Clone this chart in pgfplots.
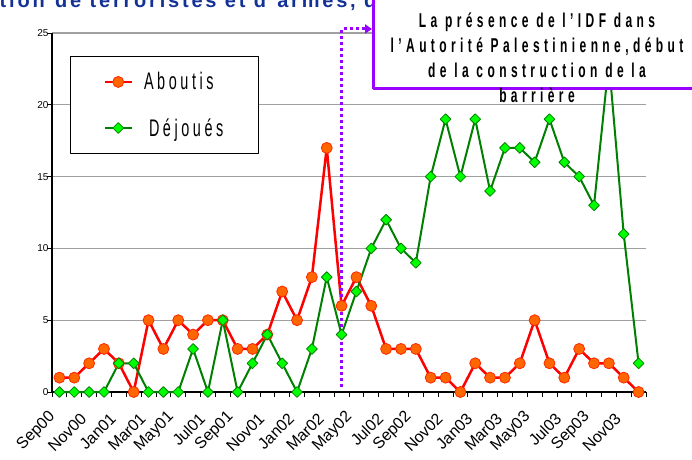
\documentclass[border=0pt]{standalone}
\usepackage{pgfplots}
\usepackage{pgfplotstable}
\pgfplotsset{compat=1.18}
\usetikzlibrary{arrows.meta}
\usepackage{fontspec}
\setmainfont{Liberation Sans}
\newfontfamily\legfont[FakeStretch=0.6,LetterSpace=15]{Liberation Sans}
\newfontfamily\notefont[FakeStretch=0.6,LetterSpace=22]{Liberation Sans}
\newfontfamily\titlefont[LetterSpace=14]{Liberation Sans}
\definecolor{vio}{RGB}{153,0,255}
\definecolor{redline}{RGB}{255,0,0}
\definecolor{orangefill}{RGB}{255,102,0}
\definecolor{markred}{RGB}{255,40,0}
\definecolor{dgreen}{RGB}{0,128,0}
\definecolor{lgreen}{RGB}{0,255,0}
\definecolor{gridgray}{RGB}{160,160,160}
\definecolor{titleblue}{RGB}{20,50,150}

\pgfplotstableread{
x a d
0 1 0
1 1 0
2 2 0
3 3 0
4 2 2
5 0 2
6 5 0
7 3 0
8 5 0
9 4 3
10 5 0
11 5 5
12 3 0
13 3 2
14 4 4
15 7 2
16 5 0
17 8 3
18 17 8
19 6 4
20 8 7
21 6 10
22 3 12
23 3 10
24 3 9
25 1 15
26 1 19
27 0 15
28 2 19
29 1 14
30 1 17
31 2 17
32 5 16
33 2 19
34 1 16
35 3 15
36 2 13
37 2 23
38 1 11
39 0 2
}\datatable

\begin{document}
\begin{tikzpicture}[line join=round]
\useasboundingbox (0pt,0pt) rectangle (692pt,-459pt);
\clip (0pt,0pt) rectangle (692pt,-459pt);
\begin{axis}[
  at={(52pt,-392pt)}, anchor=south west,
  scale only axis, width=594pt, height=359pt,
  xmin=-0.5, xmax=39.5, ymin=0, ymax=25,
  clip=false,
  axis x line*=bottom, axis y line*=left,
  axis line style={black, line width=1.5pt},
  xtick={0,2,...,38},
  xticklabels={Sep00,Nov00,Jan01,Mar01,May01,Jul01,Sep01,Nov01,Jan02,Mar02,May02,Jul02,Sep02,Nov02,Jan03,Mar03,May03,Jul03,Sep03,Nov03},
  minor xtick={-0.5,0.5,...,39.5},
  ytick={0,5,...,25},
  minor ytick={0,5,...,25},
  major tick length=0pt,
  minor tick length=5pt,
  tick align=outside,
  tick style={black, line width=0.8pt},
  ymajorgrids,
  major grid style={gridgray, line width=1.2pt},
  /pgf/number format/assume math mode=true,
  xticklabel shift=28pt,
  xticklabel style={rotate=45, anchor=south east, font=\fontsize{16}{16}\selectfont, inner sep=1pt},
  yticklabel style={font=\fontsize{10}{10}\selectfont},
  legend style={at={(axis description cs:0.0303,0.936)}, anchor=north west,
    draw=black, line width=1pt, fill=white, inner xsep=33pt, inner ysep=14pt,
    row sep=23pt, font=\legfont\fontsize{24}{24}\selectfont},
  legend cell align=left,
  legend image code/.code={\draw[mark repeat=2,mark phase=2,#1] plot coordinates {(0pt,0pt)(13.5pt,0pt)(27pt,0pt)};},
]
\addplot[redline, line width=2.5pt, mark=*, mark size=5.5pt,
  mark options={fill=orangefill, draw=markred, line width=0.8pt}] table[x=x,y=a]{\datatable};
\addlegendentry{\hspace{9pt}Aboutis}
\addplot[dgreen, line width=2pt, mark=square*, mark size=3.8pt,
  mark options={rotate=45, fill=lgreen, draw=dgreen, line width=0.8pt}] table[x=x,y=d]{\datatable};
\addlegendentry{\hspace{14pt}Déjoués}
\draw[vio, line width=3pt, dash pattern=on 3pt off 3pt, -{Triangle[length=7pt,width=9pt]}]
  (axis cs:19,0.35) -- (axis cs:19,25.28) -- (axis cs:21.05,25.28);
\end{axis}
\node[anchor=base east, inner sep=0pt, text=titleblue, font=\titlefont\bfseries\fontsize{20}{20}\selectfont] at (45pt,-7.5pt) {Infiltration};
\node[anchor=base west, inner sep=0pt, text=titleblue, font=\titlefont\bfseries\fontsize{20}{20}\selectfont] at (55pt,-7.5pt) {de terroristes et d’armes, de la};
\draw[vio, line width=3pt, fill=white] (373pt,5pt) rectangle (700pt,-88pt);
\node[align=center, anchor=base, inner sep=0pt, font=\notefont\bfseries\fontsize{20}{25}\selectfont] at (537pt,-102pt)
  {La présence de l’IDF dans\\l’Autorité Palestinienne,début\\de la construction de la\\barrière};
\end{tikzpicture}
\end{document}
